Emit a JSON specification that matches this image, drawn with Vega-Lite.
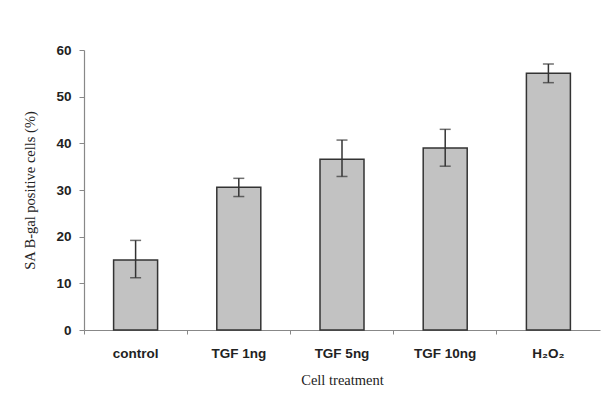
{
  "$schema": "https://vega.github.io/schema/vega-lite/v6.json",
  "width": 516,
  "height": 280,
  "autosize": {"type": "none"},
  "padding": {"left": 84, "top": 50, "right": 10, "bottom": 73},
  "background": "white",
  "config": {"view": {"stroke": null}},
  "data": {"values": [
    {"treatment": "control", "value": 15.0, "lo": 11.2, "hi": 19.2},
    {"treatment": "TGF 1ng", "value": 30.6, "lo": 28.6, "hi": 32.5},
    {"treatment": "TGF 5ng", "value": 36.6, "lo": 32.9, "hi": 40.7},
    {"treatment": "TGF 10ng", "value": 39.0, "lo": 35.1, "hi": 43.0},
    {"treatment": "H₂O₂", "value": 55.0, "lo": 53.0, "hi": 57.0}
  ]},
  "encoding": {
    "x": {
      "field": "treatment", "type": "nominal", "sort": null,
      "scale": {"paddingInner": 0, "paddingOuter": 0},
      "axis": {
        "title": "Cell treatment", "labelAngle": 0, "bandPosition": 0,
        "labelFont": "Liberation Sans", "labelFontWeight": "bold", "labelFontSize": 13.5, "labelColor": "#222",
        "labelPadding": 12, "tickSize": 4, "tickColor": "#888", "domainColor": "#888", "domainWidth": 1.2,
        "titleFont": "Liberation Serif", "titleFontWeight": "normal", "titleFontSize": 14.5, "titleColor": "#222", "titlePadding": 14
      }
    }
  },
  "layer": [
    {
      "mark": {"type": "bar", "size": 44, "color": "#c2c2c2", "stroke": "#333", "strokeWidth": 1.5},
      "encoding": {
        "y": {
          "field": "value", "type": "quantitative", "title": "SA B-gal positive cells (%)",
          "scale": {"domain": [0, 60], "nice": false},
          "axis": {
            "values": [0, 10, 20, 30, 40, 50, 60], "grid": false,
            "labelFont": "Liberation Sans", "labelFontWeight": "bold", "labelFontSize": 13.5, "labelColor": "#222",
            "labelPadding": 8, "tickSize": 5, "tickColor": "#888", "domainColor": "#888", "domainWidth": 1.2,
            "titleFont": "Liberation Serif", "titleFontWeight": "normal", "titleFontSize": 14.5, "titleColor": "#222", "titlePadding": 18
          }
        }
      }
    },
    {
      "mark": {"type": "errorbar", "ticks": {"size": 11, "color": "#333", "thickness": 1.5}, "rule": {"color": "#333", "strokeWidth": 1.5}},
      "encoding": {
        "y": {"field": "lo", "type": "quantitative", "title": "SA B-gal positive cells (%)"},
        "y2": {"field": "hi"}
      }
    }
  ]
}
